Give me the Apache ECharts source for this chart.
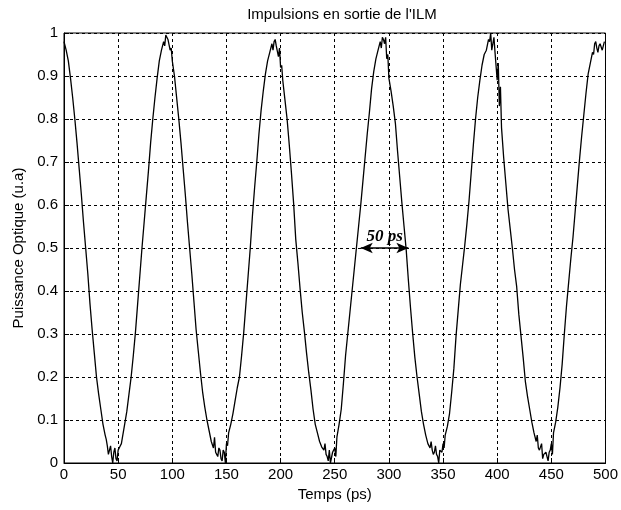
<!DOCTYPE html>
<html>
<head>
<meta charset="utf-8">
<script src="https://cdn.jsdelivr.net/npm/echarts@6/dist/echarts.min.js"></script>
<style>
html,body{margin:0;padding:0;background:#fff;}
#chart{width:621px;height:510px;}
</style>
</head>
<body>
<div id="chart"></div>
<script>
const titleText = "Impulsions en sortie de l'ILM";
const xAxisName = "Temps (ps)";
const yAxisName = "Puissance Optique (u.a)";
const xTicks = [0, 50, 100, 150, 200, 250, 300, 350, 400, 450, 500];
const yTicks = [0, 0.1, 0.2, 0.3, 0.4, 0.5, 0.6, 0.7, 0.8, 0.9, 1];

// main samples (every 2 ps)
const times = [
0,2,4,6,8,10,12,14,16,18,20,22,24,26,28,30,32,34,36,38,40,42,44,46,48,
50,52,54,56,58,60,62,64,66,68,70,72,74,76,78,80,82,84,86,88,90,92,94,96,98,
100,102,104,106,108,110,112,114,116,118,120,122,124,126,128,130,132,134,136,138,140,142,144,146,148,
150,152,154,156,158,160,162,164,166,168,170,172,174,176,178,180,182,184,186,188,190,192,194,196,198,
200,202,204,206,208,210,212,214,216,218,220,222,224,226,228,230,232,234,236,238,240,242,244,246,248,
250,252,254,256,258,260,262,264,266,268,270,272,274,276,278,280,282,284,286,288,290,292,294,296,298,
300,302,304,306,308,310,312,314,316,318,320,322,324,326,328,330,332,334,336,338,340,342,344,346,348,
350,352,354,356,358,360,362,364,366,368,370,372,374,376,378,380,382,384,386,388,390,392,394,396,398,
400,402,404,406,408,410,412,414,416,418,420,422,424,426,428,430,432,434,436,438,440,442,444,446,448,
450,452,454,456,458,460,462,464,466,468,470,472,474,476,478,480,482,484,486,488,490,492,494,496,498,
500];

const power = [
0.98,0.96,0.935,0.895,0.85,0.8,0.745,0.685,0.625,0.56,0.5,0.44,0.37,0.31,0.255,0.2,0.16,0.125,0.09,0.065,0.04,0.03,0.015,0.025,0.01,
0.03,0.04,0.06,0.09,0.12,0.16,0.2,0.25,0.305,0.37,0.435,0.5,0.56,0.62,0.68,0.745,0.8,0.85,0.895,0.935,0.96,0.98,0.995,0.985,
0.96,0.935,0.9,0.85,0.8,0.745,0.685,0.625,0.56,0.5,0.44,0.375,0.31,0.26,0.21,0.165,0.13,0.1,0.075,0.05,0.035,0.025,0.015,0.03,0.005,
0.025,0.045,0.07,0.09,0.115,0.145,0.175,0.2,0.25,0.305,0.37,0.435,0.5,0.575,0.64,0.7,0.765,0.82,0.865,0.905,0.935,0.955,0.975,0.98,0.97,
0.945,0.92,0.89,0.845,0.8,0.74,0.675,0.605,0.52,0.465,0.405,0.35,0.305,0.255,0.21,0.17,0.125,0.09,0.07,0.05,0.037,0.03,0.02,0.005,0.0,
0.025,0.035,0.06,0.09,0.125,0.185,0.25,0.3,0.35,0.4,0.45,0.5,0.55,0.6,0.655,0.71,0.765,0.815,0.87,0.91,0.94,0.96,0.98,0.99,0.975,
0.94,0.895,0.865,0.83,0.79,0.725,0.665,0.605,0.55,0.495,0.425,0.36,0.3,0.245,0.2,0.16,0.12,0.09,0.065,0.045,0.035,0.03,0.025,0.02,0.0,
0.03,0.045,0.065,0.085,0.115,0.165,0.22,0.295,0.355,0.415,0.46,0.505,0.555,0.61,0.675,0.74,0.8,0.85,0.89,0.925,0.95,0.96,0.985,1.0,0.975,
0.955,0.89,0.83,0.78,0.71,0.65,0.59,0.545,0.5,0.45,0.41,0.345,0.295,0.245,0.19,0.155,0.125,0.095,0.07,0.05,0.035,0.03,0.01,0.02,0.015,
0.025,0.045,0.07,0.095,0.13,0.175,0.23,0.3,0.365,0.42,0.475,0.525,0.585,0.645,0.705,0.76,0.81,0.86,0.905,0.93,0.955,0.975,0.965,0.97,0.975,
0.96];

// extra samples read at the noisy troughs and peaks (odd ps)
const detailTimes = [
39,41,43,45,47,49,51,53,
93,95,97,99,
139,141,143,145,147,149,151,
193,195,197,199,201,
241,243,245,247,249,251,
293,295,297,299,
339,341,343,345,347,349,351,
393,395,397,399,401,403,
437,439,441,443,445,447,449,451,
489,491,493,495,497,499];
const detailPower = [
0.055,0.02,0.04,0.0,0.035,0.005,0.03,0.045,
0.97,0.99,0.985,0.965,
0.06,0.02,0.035,0.01,0.03,0.0,0.04,
0.96,0.985,0.97,0.965,0.925,
0.045,0.015,0.03,0.0,0.03,0.015,
0.965,0.985,0.99,0.95,
0.05,0.02,0.04,0.015,0.03,0.025,0.035,
0.98,0.96,0.99,0.955,0.93,0.875,
0.065,0.03,0.045,0.02,0.025,0.005,0.03,0.02,
0.95,0.98,0.955,0.975,0.96,0.98];

// annotation: double arrow at half maximum
const arrowLevel = 0.5;
const arrowFrom = 274;
const arrowTo = 318;
const arrowLabel = "50 ps";

const seriesData = times.map((t, i) => [t, power[i]])
  .concat(detailTimes.map((t, i) => [t, detailPower[i]]))
  .sort((a, b) => a[0] - b[0]);

const chart = echarts.init(document.getElementById('chart'), null, {renderer: 'canvas'});
const font = 'Liberation Sans';
const fs = 15;
chart.setOption({
  backgroundColor: '#fff',
  animation: false,
  title: {
    text: titleText, left: 337, top: 2, textAlign: 'center',
    textStyle: {fontFamily: font, fontSize: fs, fontWeight: 'normal', color: '#000'}
  },
  grid: {left: 64, right: 10, top: 33, bottom: 47, show: true, borderColor: '#000', borderWidth: 1, backgroundColor: '#fff'},
  xAxis: {
    type: 'value', min: xTicks[0], max: xTicks[xTicks.length - 1], interval: 50,
    name: xAxisName, nameLocation: 'middle', nameGap: 22,
    nameTextStyle: {fontFamily: font, fontSize: fs, color: '#000'},
    axisLine: {show: true, lineStyle: {color: '#000', width: 1}},
    axisTick: {show: true, inside: true, length: 5, lineStyle: {color: '#000'}},
    axisLabel: {fontFamily: font, fontSize: fs, color: '#000', margin: 4},
    splitLine: {show: true, lineStyle: {color: '#000', type: [3, 3], width: 1}}
  },
  yAxis: {
    type: 'value', min: yTicks[0], max: yTicks[yTicks.length - 1], interval: 0.1,
    name: yAxisName, nameLocation: 'middle', nameGap: 36,
    nameTextStyle: {fontFamily: font, fontSize: fs, color: '#000'},
    axisLine: {show: true, lineStyle: {color: '#000', width: 1}},
    axisTick: {show: true, inside: true, length: 5, lineStyle: {color: '#000'}},
    axisLabel: {fontFamily: font, fontSize: fs, color: '#000', margin: 6,
      formatter: v => String(Math.round(v * 10) / 10)},
    splitLine: {show: true, lineStyle: {color: '#000', type: [3, 3], width: 1}}
  },
  series: [{
    type: 'line', data: seriesData, showSymbol: false, symbol: 'none',
    lineStyle: {color: '#000', width: 1.3},
    markLine: {
      silent: true, symbol: ['arrow', 'arrow'], symbolSize: [8, 12],
      lineStyle: {color: '#000', type: 'solid', width: 1.5},
      label: {show: true, position: 'middle', formatter: arrowLabel, distance: 3,
        fontFamily: 'Liberation Serif', fontSize: 17, fontWeight: 'bold', fontStyle: 'italic', color: '#000'},
      data: [[{coord: [arrowFrom, arrowLevel]}, {coord: [arrowTo, arrowLevel]}]]
    }
  }]
});
</script>
</body>
</html>
